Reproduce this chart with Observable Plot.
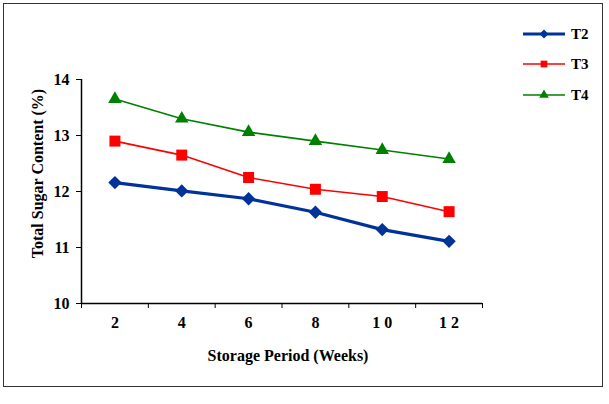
<!DOCTYPE html>
<html><head><meta charset="utf-8">
<script src="https://cdn.jsdelivr.net/npm/d3@7"></script>
<script src="https://cdn.jsdelivr.net/npm/@observablehq/plot@0.6"></script>
<style>
body{margin:0;background:#fff;}
#wrap{position:relative;width:609px;height:404px;font-family:"Liberation Serif","Times New Roman",serif;}
#frame{position:absolute;left:3px;top:3px;width:600px;height:384px;border:1.5px solid #333;pointer-events:none;box-sizing:border-box;}
#legend{position:absolute;left:0;top:0;pointer-events:none;}
</style></head><body>
<div id="wrap"><div id="chart"></div><div id="frame"></div><svg id="legend" width="609" height="404"></svg></div>
<script>
const weeks = [2, 4, 6, 8, 10, 12];
const xLabels = ["2", "4", "6", "8", "1 0", "1 2"];
const xBoundaries = [1, 3, 5, 7, 9, 11, 13];
const yTicks = [10, 11, 12, 13, 14];
const seriesNames = ["T2", "T3", "T4"];
const t2 = [12.16, 12.01, 11.87, 11.63, 11.32, 11.11];
const t3 = [12.90, 12.65, 12.25, 12.04, 11.91, 11.64];
const t4 = [13.65, 13.30, 13.06, 12.90, 12.74, 12.58];
const colors = ["#003399", "#ff0000", "#008000"];
const symbols = ["diamond2", "square", "triangle"];
const seriesValues = [t2, t3, t4];

const font = '"Liberation Serif","Times New Roman",serif';

const marks = [
  Plot.ruleX([1], {stroke: "#000", strokeWidth: 1.5}),
  Plot.ruleY([10], {stroke: "#000", strokeWidth: 1.5}),
  Plot.axisY(yTicks, {tickSize: 5, tickPadding: 7, tickFormat: d => String(d), label: null, fontSize: 16, fontWeight: "bold"}),
  Plot.axisX(xBoundaries, {tickSize: 5, tickFormat: () => "", label: null}),
  Plot.axisX(weeks, {tickSize: 0, tickPadding: 13, tickFormat: (d, i) => xLabels[i], label: null, fontSize: 16, fontWeight: "bold"}),
  Plot.text(["Total Sugar Content (%)"], {frameAnchor: "left", textAnchor: "middle", dx: -44, dy: -18, rotate: -90, fontSize: 16, fontWeight: "bold"}),
  Plot.text(["Storage Period (Weeks)"], {frameAnchor: "bottom", dx: 6, dy: 57, fontSize: 16, fontWeight: "bold"})
];
const widths = [3.2, 1.6, 1.6];
const radii = [6, 6.2, 5];
seriesValues.forEach((vals, k) => {
  const data = weeks.map((w, i) => ({week: w, value: vals[i]}));
  marks.push(Plot.line(data, {x: "week", y: "value", stroke: colors[k], strokeWidth: widths[k]}));
  marks.push(Plot.dot(data, {x: "week", y: "value", fill: colors[k], stroke: "none", symbol: symbols[k], r: radii[k]}));
});

const chart = Plot.plot({
  width: 609, height: 404,
  marginLeft: 81, marginRight: 127, marginTop: 79, marginBottom: 101,
  x: {domain: [1, 13]},
  y: {domain: [10, 14]},
  style: {fontFamily: font, color: "#000", background: "transparent", fontWeight: "bold"},
  marks
});
document.getElementById("chart").appendChild(chart);

// legend
const leg = d3.select("#legend");
const legY = [34, 64, 95];
const symMap = {diamond2: d3.symbolDiamond2, square: d3.symbolSquare, triangle: d3.symbolTriangle};
const legSizes = [50, 45, 40];
seriesNames.forEach((name, k) => {
  const g = leg.append("g").attr("transform", `translate(0,${legY[k]})`);
  g.append("line").attr("x1", 523).attr("x2", 565).attr("y1", 0).attr("y2", 0)
    .attr("stroke", colors[k]).attr("stroke-width", widths[k]);
  g.append("path").attr("transform", "translate(544,0)")
    .attr("d", d3.symbol(symMap[symbols[k]], legSizes[k])()).attr("fill", colors[k]);
  g.append("text").attr("x", 571).attr("y", 0).attr("dy", "0.35em")
    .attr("font-family", font).attr("font-weight", "bold").attr("font-size", 15).text(name);
});
</script>
</body></html>
